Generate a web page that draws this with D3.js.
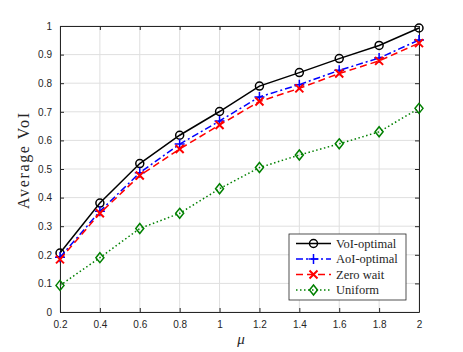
<!DOCTYPE html>
<html>
<head>
<meta charset="utf-8">
<script src="https://cdn.jsdelivr.net/npm/d3@7"></script>
<style>
  body { margin: 0; background: #fff; }
  svg { display: block; }
  .tick text { font-family: 'Liberation Sans', Arial, sans-serif; font-size: 10px; fill: #262626; }
</style>
</head>
<body>
<svg id="chart" width="463" height="352"></svg>
<script>
// DATA
const mu = [0.2, 0.4, 0.6, 0.8, 1.0, 1.2, 1.4, 1.6, 1.8, 2.0];
const voiOptimal = [0.206, 0.381, 0.519, 0.618, 0.701, 0.790, 0.837, 0.886, 0.932, 0.993];
const aoiOptimal = [0.191, 0.352, 0.487, 0.587, 0.668, 0.752, 0.795, 0.845, 0.888, 0.951];
const zeroWait = [0.184, 0.345, 0.477, 0.570, 0.654, 0.736, 0.782, 0.834, 0.878, 0.940];
const uniform = [0.093, 0.190, 0.292, 0.345, 0.431, 0.505, 0.549, 0.588, 0.630, 0.712];
const xTicks = [0.2, 0.4, 0.6, 0.8, 1, 1.2, 1.4, 1.6, 1.8, 2];
const yTicks = [0, 0.1, 0.2, 0.3, 0.4, 0.5, 0.6, 0.7, 0.8, 0.9, 1];

const series = [
  { name: 'VoI-optimal', values: voiOptimal, color: '#000000', dash: null, marker: 'circle' },
  { name: 'AoI-optimal', values: aoiOptimal, color: '#0000ff', dash: '7,3,2,3', marker: 'plus' },
  { name: 'Zero wait', values: zeroWait, color: '#ff0000', dash: '7,4', marker: 'cross' },
  { name: 'Uniform', values: uniform, color: '#008000', dash: '1.5,2.5', marker: 'diamond' }
];

const SERIF = "'Liberation Serif', 'DejaVu Serif', serif";

// SETUP
const svg = d3.select('#chart');
const margin = { top: 26, right: 44, bottom: 40, left: 60 };
const width = 463 - margin.left - margin.right,
  height = 352 - margin.top - margin.bottom;

const x = d3.scaleLinear().domain([0.2, 2]).range([0, width]);
const y = d3.scaleLinear().domain([0, 1]).range([height, 0]);

const g = svg.append('g')
  .attr('transform', 'translate(' + margin.left + ',' + margin.top + ')');

// GRID
g.append('g').selectAll('line').data(xTicks).enter().append('line')
  .attr('x1', d => x(d)).attr('x2', d => x(d))
  .attr('y1', 0).attr('y2', height)
  .attr('stroke', '#dfdfdf').attr('stroke-width', 1);
g.append('g').selectAll('line').data(yTicks).enter().append('line')
  .attr('y1', d => y(d)).attr('y2', d => y(d))
  .attr('x1', 0).attr('x2', width)
  .attr('stroke', '#dfdfdf').attr('stroke-width', 1);

// AXES (ticks inside, box on)
function styleAxis(sel) {
  sel.select('.domain').attr('stroke', '#262626');
  sel.selectAll('.tick line').attr('stroke', '#262626');
}
g.append('g').attr('transform', 'translate(0,' + height + ')')
  .call(d3.axisBottom(x).tickValues(xTicks).tickFormat(d3.format('')).tickSizeInner(-4).tickSizeOuter(0).tickPadding(9))
  .call(styleAxis);
g.append('g')
  .call(d3.axisTop(x).tickValues(xTicks).tickFormat('').tickSizeInner(-4).tickSizeOuter(0))
  .call(styleAxis);
g.append('g')
  .call(d3.axisLeft(y).tickValues(yTicks).tickFormat(d3.format('')).tickSizeInner(-4).tickSizeOuter(0).tickPadding(8))
  .call(styleAxis);
g.append('g').attr('transform', 'translate(' + width + ',0)')
  .call(d3.axisRight(y).tickValues(yTicks).tickFormat('').tickSizeInner(-4).tickSizeOuter(0))
  .call(styleAxis);

// MARKERS
function drawMarker(sel, type, color) {
  if (type === 'circle') {
    sel.append('circle').attr('r', 4).attr('fill', 'none').attr('stroke', color).attr('stroke-width', 1.5);
  } else if (type === 'plus') {
    sel.append('path').attr('d', 'M-5,0H5M0,-5V5').attr('stroke', color).attr('stroke-width', 1.5);
  } else if (type === 'cross') {
    sel.append('path').attr('d', 'M-4,-4L4,4M-4,4L4,-4').attr('stroke', color).attr('stroke-width', 2);
  } else if (type === 'diamond') {
    sel.append('path').attr('d', 'M0,-5L4,0L0,5L-4,0Z').attr('fill', 'none').attr('stroke', color).attr('stroke-width', 1.5);
  }
}

// LINES
const line = d3.line().x(d => x(d[0])).y(d => y(d[1]));
series.forEach(function (s) {
  const pts = mu.map((m, i) => [m, s.values[i]]);
  g.append('path').datum(pts)
    .attr('d', line)
    .attr('fill', 'none')
    .attr('stroke', s.color)
    .attr('stroke-width', 1.5)
    .attr('stroke-dasharray', s.dash);
  pts.forEach(function (p) {
    const m = g.append('g').attr('transform', 'translate(' + x(p[0]) + ',' + y(p[1]) + ')');
    drawMarker(m, s.marker, s.color);
  });
});

// LABELS
svg.append('text')
  .attr('transform', 'translate(29,' + 161 + ') rotate(-90)')
  .attr('text-anchor', 'middle')
  .attr('textLength', 96)
  .style('font-family', SERIF)
  .style('font-size', '16px')
  .style('fill', '#262626')
  .text('Average VoI');
svg.append('text')
  .attr('x', 241)
  .attr('y', 344)
  .attr('text-anchor', 'middle')
  .style('font-family', SERIF)
  .style('font-size', '15px')
  .style('font-style', 'italic')
  .style('fill', '#262626')
  .text('μ');

// LEGEND
const leg = svg.append('g').attr('transform', 'translate(289,234)');
leg.append('rect').attr('width', 117).attr('height', 66)
  .attr('fill', '#fff').attr('stroke', '#262626').attr('stroke-width', 0.8);
series.forEach(function (s, i) {
  const row = leg.append('g').attr('transform', 'translate(0,' + (9.5 + i * 15.5) + ')');
  row.append('line').attr('x1', 7).attr('x2', 42).attr('y1', 0).attr('y2', 0)
    .attr('stroke', s.color).attr('stroke-width', 1.5).attr('stroke-dasharray', s.dash);
  const m = row.append('g').attr('transform', 'translate(24.5,0)');
  drawMarker(m, s.marker, s.color);
  row.append('text').attr('x', 47).attr('y', 4)
    .style('font-family', SERIF)
    .style('font-size', '12.5px')
    .style('fill', '#262626')
    .text(s.name);
});
</script>
</body>
</html>
